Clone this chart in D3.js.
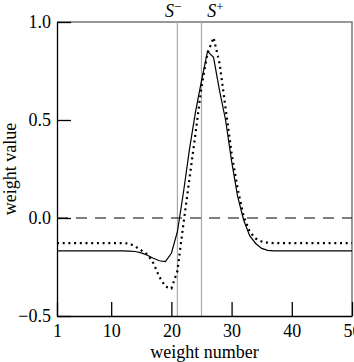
<!DOCTYPE html>
<html>
<head>
<meta charset="utf-8">
<script src="https://cdn.jsdelivr.net/npm/d3@7"></script>
<style>
  body { margin: 0; background: #fff; }
  text { font-family: "Liberation Serif", "DejaVu Serif", serif; fill: #000; }
</style>
</head>
<body>
<div id="chart"></div>
<script>
// weight number 1..50
const weightNumbers = d3.range(1, 51);

// solid curve
const solidValues = [
  -0.168, -0.168, -0.168, -0.168, -0.168, -0.168, -0.168, -0.168, -0.168, -0.168,
  -0.168, -0.168, -0.169, -0.171, -0.178, -0.19, -0.205, -0.218, -0.222, -0.18,
  -0.07, 0.13, 0.35, 0.54, 0.70, 0.85, 0.82, 0.65, 0.50, 0.29,
  0.11, -0.01, -0.09, -0.13, -0.155, -0.165, -0.168, -0.168, -0.168, -0.168,
  -0.168, -0.168, -0.168, -0.168, -0.168, -0.168, -0.168, -0.168, -0.168, -0.168
];

// dotted curve
const dottedValues = [
  -0.128, -0.128, -0.128, -0.128, -0.128, -0.128, -0.128, -0.128, -0.128, -0.128,
  -0.128, -0.128, -0.13, -0.145, -0.165, -0.185, -0.23, -0.30, -0.35, -0.36,
  -0.27, -0.03, 0.20, 0.43, 0.67, 0.84, 0.92, 0.79, 0.56, 0.33,
  0.15, 0.01, -0.07, -0.105, -0.12, -0.126, -0.128, -0.128, -0.128, -0.128,
  -0.128, -0.128, -0.128, -0.128, -0.128, -0.128, -0.128, -0.128, -0.128, -0.128
];

const xTicks = [1, 10, 20, 30, 40, 50];
const yTicks = [-0.5, 0, 0.5, 1.0];

// marker lines S- and S+
const markerNames = ['S', 'S'];
const markerSigns = ['\u2212', '+'];
const markerPositions = [21, 25];
const markerLabelPositions = [20.3, 27.3];

const W = 354, H = 362;
const margin = {top: 22, right: 2, bottom: 46, left: 57};

const svg = d3.select('#chart').append('svg')
    .attr('width', W)
    .attr('height', H);

const x = d3.scaleLinear().domain([1, 50]).range([margin.left, W - margin.right]);
const y = d3.scaleLinear().domain([-0.5, 1.0]).range([H - margin.bottom, margin.top]);

// top / right frame in grey
svg.append('path')
    .attr('d', `M${x(1)},${y(1)}H${x(50)}V${y(-0.5)}`)
    .attr('fill', 'none')
    .attr('stroke', '#777')
    .attr('stroke-width', 1.5);

// marker lines
markerPositions.forEach(p => {
    svg.append('line')
        .attr('x1', x(p)).attr('x2', x(p))
        .attr('y1', y(1)).attr('y2', y(-0.5))
        .attr('stroke', '#aaa')
        .attr('stroke-width', 1.2);
});

// zero line
svg.append('line')
    .attr('x1', x(1)).attr('x2', x(50))
    .attr('y1', y(0)).attr('y2', y(0))
    .attr('stroke', '#000')
    .attr('stroke-width', 1.2)
    .attr('stroke-dasharray', '11,8');

const line = d3.line()
    .x((d, i) => x(weightNumbers[i]))
    .y(d => y(d));

svg.append('path')
    .datum(solidValues)
    .attr('d', line)
    .attr('fill', 'none')
    .attr('stroke', '#000')
    .attr('stroke-width', 1.2);

svg.append('path')
    .datum(dottedValues)
    .attr('d', line)
    .attr('fill', 'none')
    .attr('stroke', '#000')
    .attr('stroke-width', 2.2)
    .attr('stroke-dasharray', '2,3.7');

// axes
const xAxis = d3.axisBottom(x)
    .tickValues(xTicks)
    .tickFormat(d3.format('d'))
    .tickSizeInner(-14)
    .tickSizeOuter(0)
    .tickPadding(8);

const yAxis = d3.axisLeft(y)
    .tickValues(yTicks)
    .tickFormat(d3.format('.1f'))
    .tickSizeInner(-14)
    .tickSizeOuter(0)
    .tickPadding(6);

const gx = svg.append('g')
    .attr('transform', `translate(0,${y(-0.5)})`)
    .call(xAxis);

const gy = svg.append('g')
    .attr('transform', `translate(${x(1)},0)`)
    .call(yAxis);

[gx, gy].forEach(g => {
    g.selectAll('path, line').attr('stroke', '#000').attr('stroke-width', 1.3);
    g.selectAll('text')
        .attr('font-family', '"Liberation Serif", serif')
        .attr('font-size', 18)
        .attr('fill', '#000');
});

// axis titles
svg.append('text')
    .attr('x', (x(1) + x(50)) / 2)
    .attr('y', 358)
    .attr('text-anchor', 'middle')
    .attr('font-size', 18)
    .text('weight number');

svg.append('text')
    .attr('transform', `translate(16,${(y(1) + y(-0.5)) / 2}) rotate(-90)`)
    .attr('text-anchor', 'middle')
    .attr('font-size', 18)
    .text('weight value');

// S- / S+ labels
markerLabelPositions.forEach((p, i) => {
    const t = svg.append('text')
        .attr('x', x(p))
        .attr('y', 17)
        .attr('text-anchor', 'middle')
        .attr('font-size', 18);
    t.append('tspan').attr('font-style', 'italic').text(markerNames[i]);
    t.append('tspan').attr('font-size', 13).attr('dy', -6).text(markerSigns[i]);
});
</script>
</body>
</html>
